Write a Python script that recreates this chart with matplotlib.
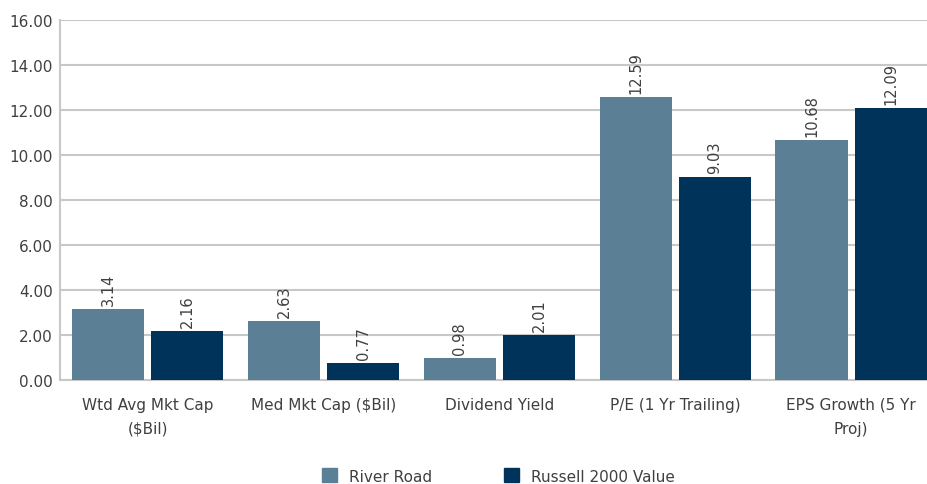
import matplotlib
matplotlib.use("Agg")
import matplotlib.pyplot as plt
import numpy as np
from matplotlib.patches import Patch

categories = ["Wtd Avg Mkt Cap\n($Bil)", "Med Mkt Cap ($Bil)", "Dividend Yield",
              "P/E (1 Yr Trailing)", "EPS Growth (5 Yr\nProj)"]
river_road = [3.14, 2.63, 0.98, 12.59, 10.68]
russell = [2.16, 0.77, 2.01, 9.03, 12.09]
series_names = ["River Road", "Russell 2000 Value"]
colors = ["#5B7F95", "#003359"]

plt.rcParams['font.family'] = ['DejaVu Sans']
W, H = 928, 485
fig = plt.figure(figsize=(W/100, H/100), dpi=100)
left, right, top, bottom = 60, 928, 21, 381
ax = fig.add_axes([left/W, 1-bottom/H, (right-left)/W, (bottom-top)/H])

x = np.arange(len(categories))
bw = 0.41
off = 0.225
b1 = ax.bar(x-off, river_road, bw, color=colors[0], zorder=3)
b2 = ax.bar(x+off, russell, bw, color=colors[1], zorder=3)
for bars, vals in [(b1, river_road), (b2, russell)]:
    for b, v in zip(bars, vals):
        ax.annotate(f"{v:.2f}", (b.get_x()+b.get_width()/2, v), xytext=(0, 3),
                    textcoords="offset points", rotation=90, ha="center", va="bottom",
                    fontsize=10.5, color="#404040")

ax.set_xlim(-0.5, 4.5 - 11/176)
ax.set_ylim(0, 16)
ax.set_yticks(np.arange(0, 17, 2))
ax.set_yticklabels([f"{v:.2f}" for v in np.arange(0, 17, 2)])
ax.set_xticks(x)
ax.set_xticklabels(categories, fontsize=11, color="#404040", linespacing=1.75)
ax.tick_params(axis='y', labelsize=11, colors="#404040", length=0, pad=5)
ax.tick_params(axis='x', length=0, pad=12)
ax.grid(axis='y', color="#C8C8C8", linewidth=1.5, zorder=0)
for s in ["top", "right"]:
    ax.spines[s].set_visible(False)
for s in ["left", "bottom"]:
    ax.spines[s].set_color("#C8C8C8")
    ax.spines[s].set_linewidth(1.5)

for c, name, xpos in zip(colors, series_names, [322, 504]):
    fig.legend([Patch(color=c)], [name], loc="center left",
               bbox_to_anchor=(xpos/W, 1-477/H), frameon=False, fontsize=11,
               handlelength=1.0, handleheight=1.0, handletextpad=0.75,
               borderpad=0, borderaxespad=0, labelcolor="#404040")

fig.savefig("out.png", dpi=100)
